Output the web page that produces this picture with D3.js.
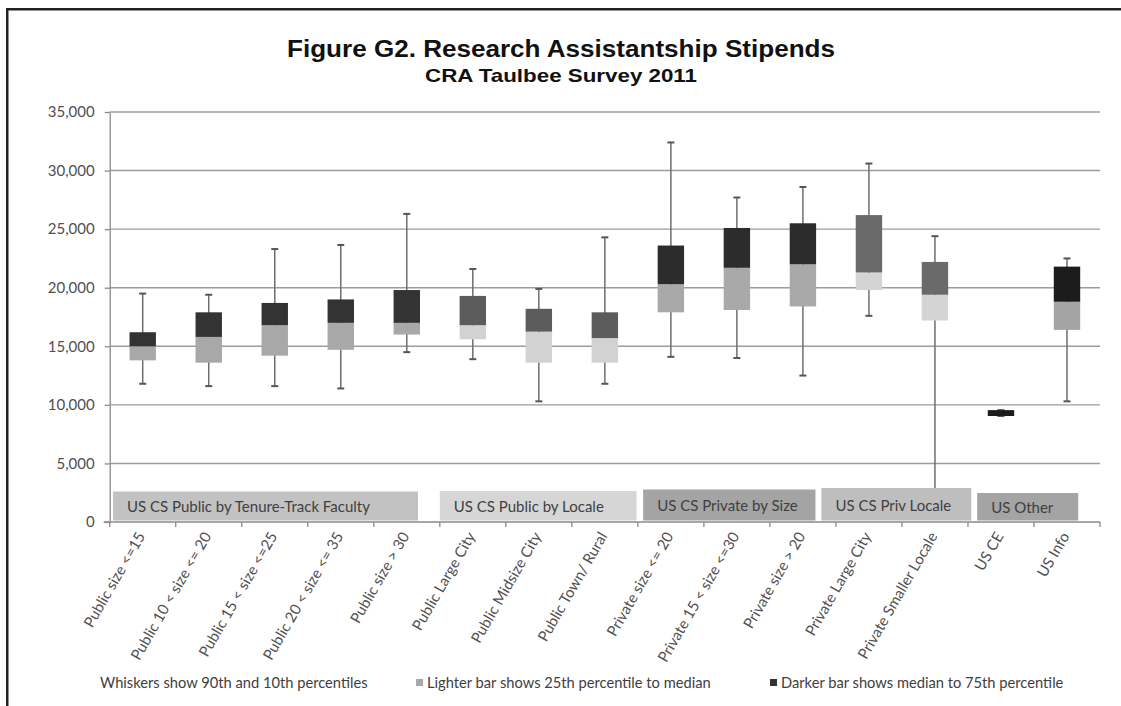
<!DOCTYPE html>
<html>
<head>
<meta charset="utf-8">
<script src="https://cdn.jsdelivr.net/npm/d3@7/dist/d3.min.js"></script>
<style>
  body { margin: 0; background: #fff; }
  svg text { font-family: Lato, "Open Sans", sans-serif; fill: #404040; }
  .title text { font-family: "Liberation Sans", Arial, sans-serif; font-weight: bold; fill: #111; }
  .axis path, .axis line { stroke: #8a8a8a; stroke-width: 1.3; }
  .axis text { font-size: 15px; fill: #505050; }
</style>
</head>
<body>
<svg id="chart" width="1121" height="706"></svg>
<script>
// Figure G2 — RA stipend percentiles (box = Q1..median..Q3, whiskers = P10..P90)
const categories = [
    'Public size <=15', 'Public 10 < size <= 20', 'Public 15 < size <=25',
    'Public 20 < size <= 35', 'Public size > 30',
    'Public Large City', 'Public Midsize City', 'Public Town/ Rural',
    'Private size <= 20', 'Private 15 < size <=30', 'Private size > 20',
    'Private Large City', 'Private Smaller Locale',
    'US CE', 'US Info'
];
const groupOf = [0, 0, 0, 0, 0, 1, 1, 1, 2, 2, 2, 3, 3, 4, 4];

const p10    = [11800, 11600, 11600, 11400, 14500, 13900, 10300, 11800, 14100, 14000, 12500, 17600,  1500, 9050, 10300];
const q1     = [13800, 13600, 14200, 14700, 16000, 15600, 13600, 13600, 17900, 18100, 18400, 19800, 17200, 9050, 16400];
const median = [15000, 15800, 16800, 17000, 17000, 16800, 16250, 15700, 20300, 21700, 22000, 21300, 19400, 9050, 18800];
const q3     = [16200, 17900, 18700, 19000, 19800, 19300, 18200, 17900, 23600, 25100, 25500, 26200, 22200, 9550, 21800];
const p90    = [19500, 19400, 23300, 23650, 26300, 21600, 19900, 24300, 32400, 27700, 28600, 30600, 24400, 9550, 22500];

const groupNames = [
    'US CS Public by Tenure-Track Faculty', 'US CS Public by Locale',
    'US CS Private by Size', 'US CS Priv Locale', 'US Other'
];
// label box extent, in category-band units
const groupSpan = [[0.05, 4.67], [5.0, 7.98], [8.08, 10.69], [10.78, 13.05], [13.14, 14.67]];
const yTicks = [0, 5000, 10000, 15000, 20000, 25000, 30000, 35000];

const legendItems = [
    'Whiskers show 90th and 10th percentiles',
    'Lighter bar shows 25th percentile to median',
    'Darker bar shows median to 75th percentile'
];

// greys per group: [light, dark, label box]
const palette = [
    ['#a8a8a8', '#333333', '#c2c2c2'],
    ['#d2d2d2', '#5c5c5c', '#d6d6d6'],
    ['#a9a9a9', '#2c2c2c', '#a4a4a4'],
    ['#d4d4d4', '#6a6a6a', '#bebebe'],
    ['#a4a4a4', '#1c1c1c', '#a4a4a4']
];

const svg = d3.select('#chart');
const M = { top: 112, right: 21, bottom: 184, left: 109.7 };
const W = 1121, H = 706;

// frame (top and left rules only)
svg.append('rect').attr('x', 6).attr('y', 8).attr('width', W).attr('height', 2.5).attr('fill', '#222');
svg.append('rect').attr('x', 6).attr('y', 8).attr('width', 2.5).attr('height', H).attr('fill', '#222');

const title = svg.append('g').attr('class', 'title');
title.append('text').attr('x', 561).attr('y', 57).attr('text-anchor', 'middle')
    .attr('font-size', 23).attr('textLength', 548).attr('lengthAdjust', 'spacingAndGlyphs')
    .text('Figure G2. Research Assistantship Stipends');
title.append('text').attr('x', 561).attr('y', 82).attr('text-anchor', 'middle')
    .attr('font-size', 19).attr('textLength', 272).attr('lengthAdjust', 'spacingAndGlyphs')
    .text('CRA Taulbee Survey 2011');

const x = d3.scaleBand().domain(categories).range([M.left, W - M.right]);
const y = d3.scaleLinear().domain([0, 35000]).range([H - M.bottom, M.top]);
const bandX = i => M.left + i * x.step();
const boxW = x.bandwidth() * 0.4;

// gridlines
svg.append('g').selectAll('line').data(yTicks.filter(d => d > 0)).join('line')
    .attr('x1', M.left).attr('x2', W - M.right)
    .attr('y1', d => y(d)).attr('y2', d => y(d))
    .attr('stroke', '#9c9c9c').attr('stroke-width', 1.4);

const rows = categories.map((c, i) => ({ c, g: groupOf[i], p10: p10[i], q1: q1[i], med: median[i], q3: q3[i], p90: p90[i] }));
const cx = d => x(d.c) + x.bandwidth() / 2;

// whiskers
const wg = svg.append('g');
wg.selectAll('line.stem').data(rows).join('line').attr('class', 'stem')
    .attr('x1', cx).attr('x2', cx)
    .attr('y1', d => y(d.p10)).attr('y2', d => y(d.p90))
    .attr('stroke', '#6e6e6e').attr('stroke-width', 1.5);
wg.selectAll('line.cap-hi').data(rows).join('line').attr('class', 'cap-hi')
    .attr('x1', d => cx(d) - 3.5).attr('x2', d => cx(d) + 3.5)
    .attr('y1', d => y(d.p90)).attr('y2', d => y(d.p90))
    .attr('stroke', '#555').attr('stroke-width', 2);
wg.selectAll('line.cap-lo').data(rows).join('line').attr('class', 'cap-lo')
    .attr('x1', d => cx(d) - 3.5).attr('x2', d => cx(d) + 3.5)
    .attr('y1', d => y(d.p10)).attr('y2', d => y(d.p10))
    .attr('stroke', '#555').attr('stroke-width', 2);

// lighter bar: Q1 -> median, darker bar: median -> Q3
svg.append('g').selectAll('rect').data(rows).join('rect')
    .attr('x', d => cx(d) - boxW / 2).attr('width', boxW)
    .attr('y', d => y(d.med)).attr('height', d => y(d.q1) - y(d.med))
    .attr('fill', d => palette[d.g][0]);
svg.append('g').selectAll('rect').data(rows).join('rect')
    .attr('x', d => cx(d) - boxW / 2).attr('width', boxW)
    .attr('y', d => y(d.q3)).attr('height', d => y(d.med) - y(d.q3))
    .attr('fill', d => palette[d.g][1]);

// group label boxes sitting on the axis
const tops = [491.5, 491, 489.5, 488, 493];
const lg = svg.append('g').selectAll('g').data(groupNames).join('g');
lg.append('rect')
    .attr('x', (d, i) => bandX(groupSpan[i][0])).attr('y', (d, i) => tops[i])
    .attr('width', (d, i) => bandX(groupSpan[i][1]) - bandX(groupSpan[i][0]))
    .attr('height', (d, i) => y(0) - 1.5 - tops[i])
    .attr('fill', (d, i) => palette[i][2]);
lg.append('text')
    .attr('x', (d, i) => bandX(groupSpan[i][0]) + 14)
    .attr('y', (d, i) => tops[i] + (y(0) - tops[i]) / 2 + 5.5)
    .attr('font-size', 15).attr('fill', '#303030')
    .text(d => d);

// axes
const yAxis = svg.append('g').attr('class', 'axis').attr('transform', `translate(${M.left},0)`)
    .call(d3.axisLeft(y).tickValues(yTicks).tickSize(5).tickSizeOuter(0).tickFormat(d3.format(',')));
yAxis.selectAll('text').attr('x', -15);

const xAxis = svg.append('g').attr('class', 'axis').attr('transform', `translate(0,${y(0)})`);
xAxis.append('line').attr('x1', M.left - 6).attr('x2', W - M.right);
xAxis.selectAll('line.tk').data(d3.range(categories.length + 1)).join('line').attr('class', 'tk')
    .attr('x1', bandX).attr('x2', bandX).attr('y1', 0).attr('y2', 5);
xAxis.selectAll('text').data(categories).join('text')
    .attr('text-anchor', 'end')
    .attr('transform', d => `translate(${x(d) + x.bandwidth() / 2 + 3},${14}) rotate(-60)`)
    .attr('font-size', 15)
    .text(d => d);

// legend
const leg = svg.append('g').attr('font-size', 14.7);
leg.append('text').attr('x', 100).attr('y', 688).text(legendItems[0]);
leg.append('rect').attr('x', 416).attr('y', 679).attr('width', 7).attr('height', 7).attr('fill', palette[0][0]);
leg.append('text').attr('x', 427).attr('y', 688).text(legendItems[1]);
leg.append('rect').attr('x', 770).attr('y', 679).attr('width', 7).attr('height', 7).attr('fill', palette[0][1]);
leg.append('text').attr('x', 781).attr('y', 688).text(legendItems[2]);
</script>
</body>
</html>
